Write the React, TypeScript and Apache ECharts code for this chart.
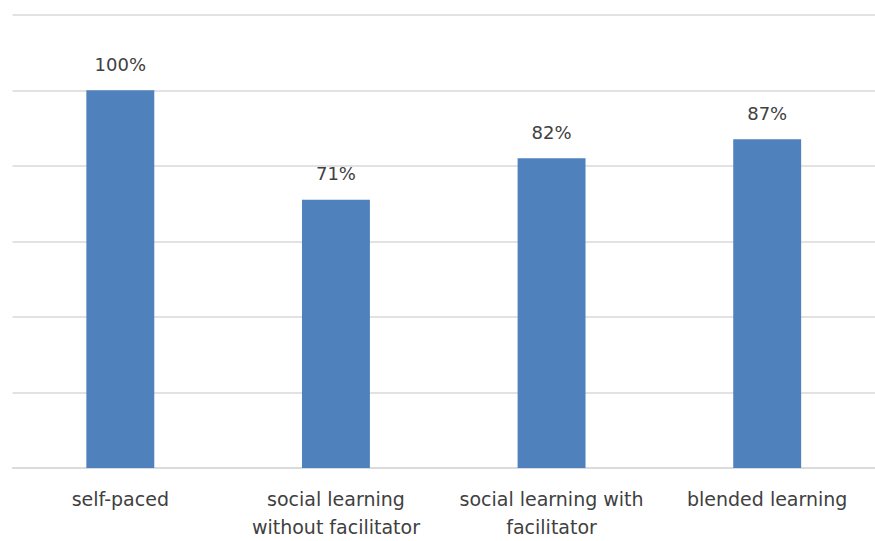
import React, { useEffect, useRef } from "react";
import * as echarts from "echarts";

const categories: string[] = [
  "self-paced",
  "social learning\nwithout facilitator",
  "social learning with\nfacilitator",
  "blended learning",
];
const values: number[] = [100, 71, 82, 87];
const yMin = 0;
const yMax = 120;
const yInterval = 20;

export default function App() {
  const ref = useRef<HTMLDivElement>(null);
  useEffect(() => {
    if (!ref.current) return;
    const chart = echarts.init(ref.current, null, { renderer: "svg" });
    const font = "'DejaVu Sans', sans-serif";
    chart.setOption({
      animation: false,
      backgroundColor: "#ffffff",
      grid: { left: 12.5, top: 14.7, width: 876, height: 458.8, containLabel: false },
      xAxis: {
        type: "category",
        data: categories,
        axisLine: { show: true, lineStyle: { color: "#D9D9D9", width: 1.5 } },
        axisTick: { show: false },
        axisLabel: {
          color: "#404040",
          fontFamily: font,
          fontSize: 19,
          lineHeight: 28,
          margin: 17,
          interval: 0,
        },
      },
      yAxis: {
        type: "value",
        min: yMin,
        max: yMax,
        interval: yInterval,
        axisLine: { show: false },
        axisTick: { show: false },
        axisLabel: { show: false },
        splitLine: { show: true, lineStyle: { color: "#D9D9D9", width: 1.5 } },
      },
      series: [
        {
          type: "bar",
          data: values,
          barWidth: "31.5%",
          itemStyle: { color: "#4F81BD" },
          label: {
            show: true,
            position: "top",
            distance: 16,
            formatter: (p: any) => p.value + "%",
            color: "#404040",
            fontFamily: font,
            fontSize: 18,
            lineHeight: 20,
          },
        },
      ],
    });
    return () => chart.dispose();
  }, []);
  return (
    <div
      ref={ref}
      style={{ position: "fixed", left: 0, top: 0, width: 875, height: 541 }}
    />
  );
}
